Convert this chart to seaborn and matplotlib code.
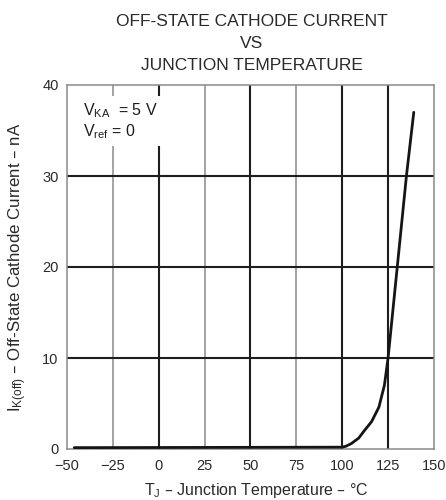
import matplotlib
matplotlib.use("Agg")
import matplotlib.pyplot as plt
import seaborn as sns
import pandas as pd

# ---- data ----
temp_c = [-46, 100, 102, 105, 109, 112, 116, 120, 123, 125, 127, 130, 135, 139]
current_na = [0.15, 0.2, 0.3, 0.6, 1.2, 2.0, 3.0, 4.6, 7.0, 10.0, 14.0, 20.0, 30.0, 37.0]
x_ticks = [-50, -25, 0, 25, 50, 75, 100, 125, 150]
x_tick_labels = ["\u221250", "\u221225", "0", "25", "50", "75", "100", "125", "150"]
y_ticks = [0, 10, 20, 30, 40]
thick_vlines = [0, 50, 100, 125]
thin_vlines = [-25, 25, 75]
hlines = [10, 20, 30]

sns.set_theme(style="white")
plt.rcParams["font.family"] = ["Liberation Sans", "DejaVu Sans"]
plt.rcParams["mathtext.default"] = "regular"

df = pd.DataFrame({"T": temp_c, "I": current_na})

fig = plt.figure(figsize=(4.46, 5.0), dpi=100)
ax = fig.add_axes([0.150, 0.102, 0.823, 0.728])

for v in thin_vlines:
    ax.axvline(v, color="#8a8a8a", lw=1.1, zorder=1)
for v in thick_vlines:
    ax.axvline(v, color="#1e1e1e", lw=1.5, zorder=1)
for h in hlines:
    ax.axhline(h, color="#1e1e1e", lw=1.5, zorder=1)

sns.lineplot(data=df, x="T", y="I", ax=ax, color="#151515", lw=2.0, zorder=4)

ax.set_xlim(-50, 150)
ax.set_ylim(0, 40)
ax.set_xticks(x_ticks)
ax.set_xticklabels(x_tick_labels)
ax.set_yticks(y_ticks)
ax.tick_params(axis="x", labelsize=10.5, colors="#2a2a2a", length=0, pad=7)
ax.tick_params(axis="y", labelsize=10.5, colors="#2a2a2a", length=0, pad=6)
for s in ax.spines.values():
    s.set_color("#8a8a8a")
    s.set_linewidth(1.1)

ax.set_xlabel("T$_J$ \u2013 Junction Temperature \u2013 \u00b0C", fontsize=11.5, color="#2a2a2a")
ax.xaxis.set_label_coords(0.515, -0.088)
ax.set_ylabel("I$_{K(off)}$ \u2013 Off-State Cathode Current \u2013 nA", fontsize=12.2, color="#2a2a2a")
ax.yaxis.set_label_coords(-0.103, 0.5)

ax.text(0.045, 0.955, "V$_{KA}$  = 5 V\nV$_{ref}$ = 0", transform=ax.transAxes,
        ha="left", va="top", fontsize=11.5, color="#1e1e1e", linespacing=1.15,
        bbox=dict(boxstyle="square,pad=0.35", fc="white", ec="none"), zorder=3)

title_kw = dict(ha="center", va="center", fontsize=12.5, color="#2a2a2a")
fig.text(0.565, 0.958, "OFF-STATE CATHODE CURRENT", **title_kw)
fig.text(0.565, 0.913, "VS", **title_kw)
fig.text(0.565, 0.868, "JUNCTION TEMPERATURE", **title_kw)

fig.savefig("out.png", dpi=100)
